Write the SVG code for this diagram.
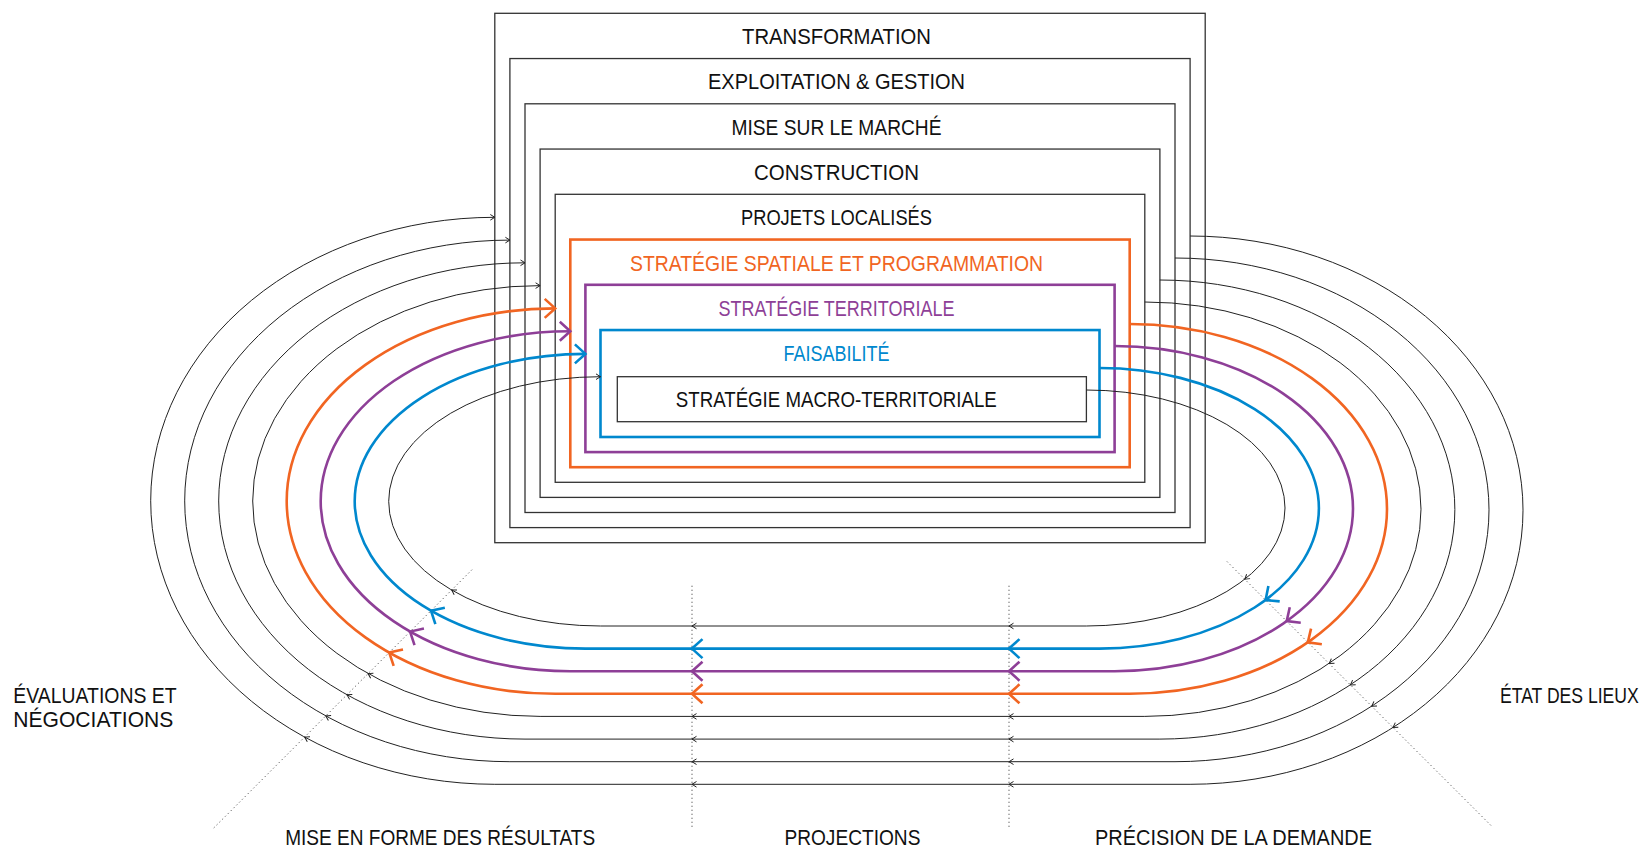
<svg xmlns="http://www.w3.org/2000/svg" xmlns:xlink="http://www.w3.org/1999/xlink" width="1650" height="847" viewBox="0 0 1650 847">
<style>
.bx{fill:none;stroke:#333;stroke-width:1.3}
.bo{fill:none;stroke:#F16522;stroke-width:2.6}
.bp{fill:none;stroke:#8E3F97;stroke-width:2.6}
.bb{fill:none;stroke:#0088CE;stroke-width:2.6}
.t{font-family:"Liberation Sans",Arial,sans-serif;font-size:22px;fill:#111}
.tm{text-anchor:middle}
.to{fill:#F16522}.tp{fill:#8E3F97}.tb{fill:#0088CE}
.lk{fill:none;stroke:#222;stroke-width:1}
.lo{fill:none;stroke:#F16522;stroke-width:2.6}
.lp{fill:none;stroke:#8E3F97;stroke-width:2.6}
.lb{fill:none;stroke:#0088CE;stroke-width:2.6}
.dot{fill:none;stroke:#555;stroke-width:1;stroke-dasharray:1.2 2.8}
</style>
<defs>
<path id="ak" d="M-4.5,-2.8 L0,0 L-4.5,2.8" fill="none" stroke="#222" stroke-width="1"/>
<path id="ac" d="M-10.5,-9.5 L0,0 L-10.5,9.5" fill="none" stroke-width="2.6"/>
</defs>
<rect width="1650" height="847" fill="#fff"/>

<g id="transformation"><rect class="bx" x="494.8" y="13.3" width="710.4" height="529.4"/><text class="t tm" x="836.5" y="44" textLength="189" lengthAdjust="spacingAndGlyphs">TRANSFORMATION</text></g>
<g id="exploitation"><rect class="bx" x="509.9" y="58.55" width="680.2" height="469.05"/><text class="t tm" x="836.5" y="89.3" textLength="257" lengthAdjust="spacingAndGlyphs">EXPLOITATION &amp; GESTION</text></g>
<g id="mise-sur-le-marche"><rect class="bx" x="525" y="103.8" width="650" height="408.7"/><text class="t tm" x="836.5" y="134.5" textLength="210" lengthAdjust="spacingAndGlyphs">MISE SUR LE MARCHÉ</text></g>
<g id="construction"><rect class="bx" x="540.1" y="149.05" width="619.8" height="348.35"/><text class="t tm" x="836.5" y="180" textLength="165" lengthAdjust="spacingAndGlyphs">CONSTRUCTION</text></g>
<g id="projets-localises"><rect class="bx" x="555.2" y="194.3" width="589.6" height="288"/><text class="t tm" x="836.5" y="225.3" textLength="191" lengthAdjust="spacingAndGlyphs">PROJETS LOCALISÉS</text></g>
<g id="strategie-spatiale"><rect class="bo" x="570.3" y="239.55" width="559.4" height="227.65"/><text class="t tm to" x="836.5" y="270.7" textLength="413" lengthAdjust="spacingAndGlyphs">STRATÉGIE SPATIALE ET PROGRAMMATION</text></g>
<g id="strategie-territoriale"><rect class="bp" x="585.4" y="284.8" width="529.2" height="167.3"/><text class="t tm tp" x="836.5" y="315.8" textLength="236" lengthAdjust="spacingAndGlyphs">STRATÉGIE TERRITORIALE</text></g>
<g id="faisabilite"><rect class="bb" x="600.5" y="330.05" width="499" height="106.95"/><text class="t tm tb" x="836.5" y="361" textLength="106" lengthAdjust="spacingAndGlyphs">FAISABILITÉ</text></g>
<g id="macro"><rect class="bx" x="617.3" y="376.7" width="469.1" height="45"/><text class="t tm" x="836.3" y="406.7" textLength="321" lengthAdjust="spacingAndGlyphs">STRATÉGIE MACRO-TERRITORIALE</text></g>

<g id="phases">
<line class="dot" x1="692" y1="585.7" x2="692" y2="827.3"/>
<line class="dot" x1="1009" y1="585.7" x2="1009" y2="827.3"/>
<line class="dot" x1="472" y1="569.7" x2="213.3" y2="828.4"/>
<line class="dot" x1="1227" y1="561.5" x2="1492" y2="826.5"/>
<text class="t" x="13.3" y="702.7" textLength="163.3" lengthAdjust="spacingAndGlyphs">ÉVALUATIONS ET</text>
<text class="t" x="13.3" y="726.7" textLength="160" lengthAdjust="spacingAndGlyphs">NÉGOCIATIONS</text>
<text class="t" transform="translate(1500,702.5) scale(0.8,1)" x="0" y="0">ÉTAT DES LIEUX</text>
<text class="t" x="285.2" y="845" textLength="310" lengthAdjust="spacingAndGlyphs">MISE EN FORME DES RÉSULTATS</text>
<text class="t" x="784.4" y="845" textLength="136" lengthAdjust="spacingAndGlyphs">PROJECTIONS</text>
<text class="t" x="1095" y="845" textLength="277" lengthAdjust="spacingAndGlyphs">PRÉCISION DE LA DEMANDE</text>
</g>

<g id="connectors">
<path class="lk" d="M1190.1,236 A332.9,274.15 0 0 1 1190.1,784.3 L494.8,784.3 A344.1,283.5 0 0 1 494.8,217.3"/>
<path class="lk" d="M1175,258 A314,251.85 0 0 1 1175,761.7 L509.9,761.7 A325.2,260.8 0 0 1 509.9,240.1"/>
<path class="lk" d="M1159.9,280 A295.1,229.55 0 0 1 1159.9,739.1 L525,739.1 A306.3,238.15 0 0 1 525,262.8"/>
<path class="lk" d="M1144.8,302 A276.2,207.2 0 0 1 1144.8,716.4 L540.1,716.4 A287.4,215.4 0 0 1 540.1,285.6"/>
<path class="lo" d="M1129.7,324 A257.3,184.9 0 0 1 1129.7,693.8 L555.2,693.8 A268.5,192.7 0 0 1 555.2,308.4"/>
<path class="lp" d="M1114.6,346 A238.4,162.6 0 0 1 1114.6,671.2 L570.3,671.2 A249.6,170 0 0 1 570.3,331.2"/>
<path class="lb" d="M1099.5,368 A219.5,140.3 0 0 1 1099.5,648.6 L585.4,648.6 A230.7,147.35 0 0 1 585.4,353.9"/>
<path class="lk" d="M1086.4,390 A198.6,118 0 0 1 1086.4,626 L600.5,626 A211.8,124.65 0 0 1 600.5,376.7"/>

<use xlink:href="#ak" transform="translate(494.8,217.3)"/>
<use xlink:href="#ak" transform="translate(509.9,240.1)"/>
<use xlink:href="#ak" transform="translate(525,262.8)"/>
<use xlink:href="#ak" transform="translate(540.1,285.6)"/>
<use xlink:href="#ac" stroke="#F16522" transform="translate(555.2,308.4)"/>
<use xlink:href="#ac" stroke="#8E3F97" transform="translate(570.3,331.2)"/>
<use xlink:href="#ac" stroke="#0088CE" transform="translate(585.4,353.9)"/>
<use xlink:href="#ak" transform="translate(600.5,376.7)"/>

<use xlink:href="#ak" transform="translate(1393,727.4) rotate(147.7)"/>
<use xlink:href="#ak" transform="translate(1371.7,706.2) rotate(147.2)"/>
<use xlink:href="#ak" transform="translate(1350.4,684.9) rotate(146.7)"/>
<use xlink:href="#ak" transform="translate(1329.2,663.5) rotate(146.1)"/>
<use xlink:href="#ac" stroke="#F16522" transform="translate(1307.8,642.4) rotate(145.4)"/>
<use xlink:href="#ac" stroke="#8E3F97" transform="translate(1286.7,621.1) rotate(144.6)"/>
<use xlink:href="#ac" stroke="#0088CE" transform="translate(1265.6,600) rotate(143.5)"/>
<use xlink:href="#ak" transform="translate(1244.8,579.2) rotate(141.9)"/>

<use xlink:href="#ak" transform="translate(1009,784.3) rotate(180)"/>
<use xlink:href="#ak" transform="translate(1009,761.7) rotate(180)"/>
<use xlink:href="#ak" transform="translate(1009,739.1) rotate(180)"/>
<use xlink:href="#ak" transform="translate(1009,716.4) rotate(180)"/>
<use xlink:href="#ac" stroke="#F16522" transform="translate(1009,693.8) rotate(180)"/>
<use xlink:href="#ac" stroke="#8E3F97" transform="translate(1009,671.2) rotate(180)"/>
<use xlink:href="#ac" stroke="#0088CE" transform="translate(1009,648.6) rotate(180)"/>
<use xlink:href="#ak" transform="translate(1009,626) rotate(180)"/>

<use xlink:href="#ak" transform="translate(692,784.3) rotate(180)"/>
<use xlink:href="#ak" transform="translate(692,761.7) rotate(180)"/>
<use xlink:href="#ak" transform="translate(692,739.1) rotate(180)"/>
<use xlink:href="#ak" transform="translate(692,716.4) rotate(180)"/>
<use xlink:href="#ac" stroke="#F16522" transform="translate(692,693.8) rotate(180)"/>
<use xlink:href="#ac" stroke="#8E3F97" transform="translate(692,671.2) rotate(180)"/>
<use xlink:href="#ac" stroke="#0088CE" transform="translate(692,648.6) rotate(180)"/>
<use xlink:href="#ak" transform="translate(692,626) rotate(180)"/>

<use xlink:href="#ak" transform="translate(304.7,737.1) rotate(-151.4)"/>
<use xlink:href="#ak" transform="translate(325.8,715.9) rotate(-151.2)"/>
<use xlink:href="#ak" transform="translate(347,694.75) rotate(-151)"/>
<use xlink:href="#ak" transform="translate(368.1,673.6) rotate(-150.75)"/>
<use xlink:href="#ac" stroke="#F16522" transform="translate(389.2,652.5) rotate(-150.5)"/>
<use xlink:href="#ac" stroke="#8E3F97" transform="translate(410.1,631.6) rotate(-150.3)"/>
<use xlink:href="#ac" stroke="#0088CE" transform="translate(431,610.75) rotate(-150.1)"/>
<use xlink:href="#ak" transform="translate(451.7,590.05) rotate(-149.8)"/>
</g>
</svg>
